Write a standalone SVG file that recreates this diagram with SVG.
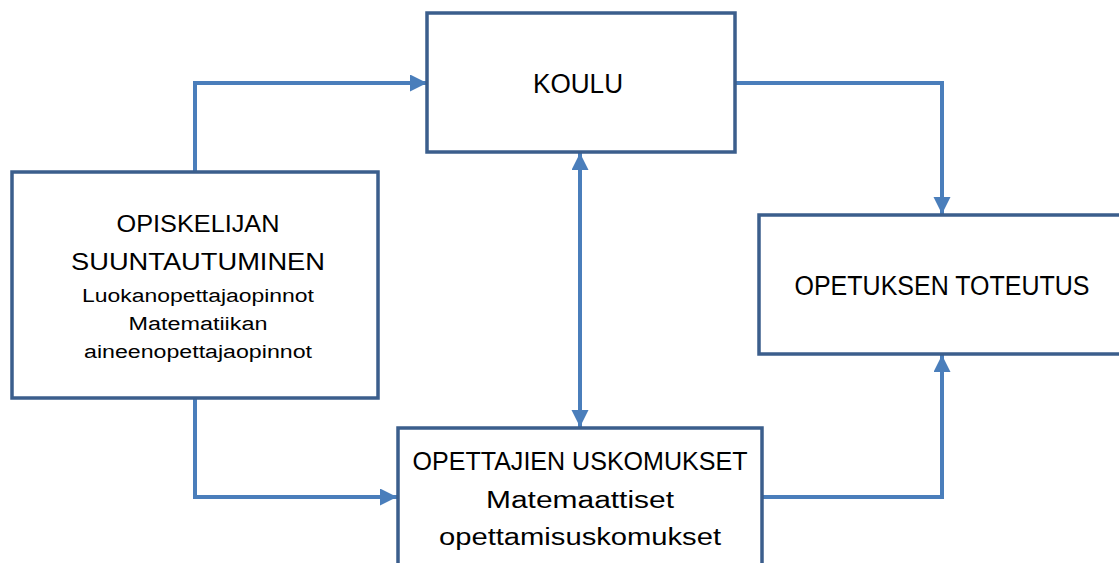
<svg xmlns="http://www.w3.org/2000/svg" width="1119" height="563" viewBox="0 0 1119 563">
<style>
.box{fill:#fff;stroke:#3B5E8C;stroke-width:3.5}
.conn{fill:none;stroke:#4A7EBB;stroke-width:4}
.t{font-family:"Liberation Sans",Arial,sans-serif;fill:#000;text-anchor:middle}
</style>
<defs>
<marker id="ah" markerUnits="userSpaceOnUse" markerWidth="18" markerHeight="18" refX="17" refY="8.5" orient="auto-start-reverse">
<path d="M0,0 L17,8.5 L0,17 z" fill="#4A7EBB"/>
</marker>
</defs>
<rect width="1119" height="563" fill="#fff"/>
<g id="connectors">
<path class="conn" d="M195,172 V83 H427" marker-end="url(#ah)"/>
<path class="conn" d="M735,83 H942 V214" marker-end="url(#ah)"/>
<path class="conn" d="M580,153 V427" marker-start="url(#ah)" marker-end="url(#ah)"/>
<path class="conn" d="M195,398 V497 H397" marker-end="url(#ah)"/>
<path class="conn" d="M762,497 H942 V355" marker-end="url(#ah)"/>
</g>
<g id="koulu">
<rect class="box" x="427" y="13" width="308" height="139"/>
<text class="t" x="578" y="93" font-size="27" textLength="90" lengthAdjust="spacingAndGlyphs">KOULU</text>
</g>
<g id="opiskelija">
<rect class="box" x="12" y="172" width="366" height="226"/>
<text class="t" x="198" y="232" font-size="24" textLength="163" lengthAdjust="spacingAndGlyphs">OPISKELIJAN</text>
<text class="t" x="198" y="270" font-size="24" textLength="254" lengthAdjust="spacingAndGlyphs">SUUNTAUTUMINEN</text>
<text class="t" x="198" y="302" font-size="18" textLength="232" lengthAdjust="spacingAndGlyphs">Luokanopettajaopinnot</text>
<text class="t" x="198" y="330" font-size="18" textLength="139" lengthAdjust="spacingAndGlyphs">Matematiikan</text>
<text class="t" x="198" y="358" font-size="18" textLength="228" lengthAdjust="spacingAndGlyphs">aineenopettajaopinnot</text>
</g>
<g id="opetuksen">
<rect class="box" x="759" y="215" width="370" height="139"/>
<text class="t" x="942" y="295" font-size="27" textLength="295" lengthAdjust="spacingAndGlyphs">OPETUKSEN TOTEUTUS</text>
</g>
<g id="opettajien">
<rect class="box" x="398" y="428" width="364" height="150"/>
<text class="t" x="580" y="470" font-size="25" textLength="335" lengthAdjust="spacingAndGlyphs">OPETTAJIEN USKOMUKSET</text>
<text class="t" x="580" y="508" font-size="23" textLength="188" lengthAdjust="spacingAndGlyphs">Matemaattiset</text>
<text class="t" x="580" y="545" font-size="23" textLength="282" lengthAdjust="spacingAndGlyphs">opettamisuskomukset</text>
</g>
</svg>
